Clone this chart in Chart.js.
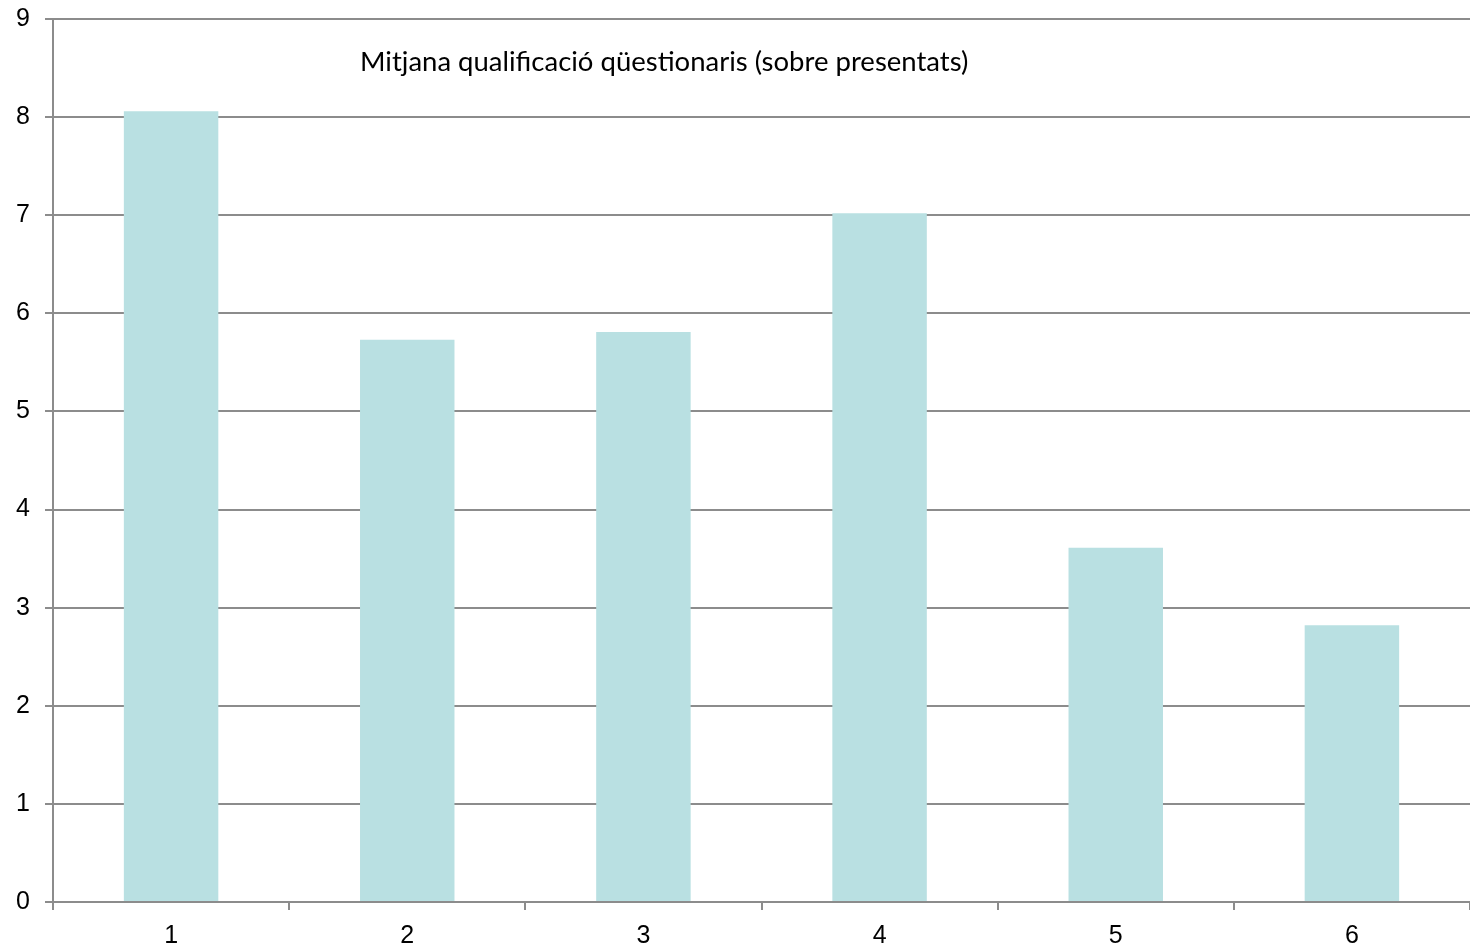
<!DOCTYPE html>
<html>
<head>
<meta charset="utf-8">
<script src="https://cdn.jsdelivr.net/npm/chart.js@4"></script>
<style>
html,body{margin:0;padding:0;background:#fff;}
canvas{display:block;}
</style>
</head>
<body>
<canvas id="c" width="1470" height="949"></canvas>
<script>
const categories = ["1","2","3","4","5","6"];
const values = [8.06, 5.73, 5.81, 7.02, 3.61, 2.82];
const chartTitle = "Mitjana qualificació qüestionaris (sobre presentats)";

const titlePlugin = {
  id: 'innerTitle',
  afterDraw(chart) {
    const ctx = chart.ctx;
    ctx.save();
    ctx.font = '27.5px Lato, "Open Sans", sans-serif';
    ctx.fillStyle = '#000';
    ctx.textBaseline = 'middle';
    ctx.textAlign = 'left';
    ctx.fillText(chartTitle, 360, 62);
    ctx.restore();
  }
};

const tickFont = { family: "'Liberation Sans', Arial, sans-serif", size: 25, lineHeight: 1.0 };

new Chart(document.getElementById('c'), {
  type: 'bar',
  data: {
    labels: categories,
    datasets: [{
      data: values,
      backgroundColor: '#b9e0e2',
      borderWidth: 0,
      barPercentage: 0.4,
      categoryPercentage: 1.0
    }]
  },
  options: {
    responsive: false,
    animation: false,
    devicePixelRatio: 1,
    layout: { padding: { top: 19, right: 0, left: 0, bottom: 0 } },
    plugins: { legend: { display: false }, title: { display: false }, tooltip: { enabled: false } },
    scales: {
      y: {
        min: 0, max: 9,
        ticks: { stepSize: 1, color: '#000', font: tickFont, padding: 15 },
        grid: { color: '#8c8c8c', lineWidth: 2, tickLength: 8 },
        border: { color: '#8c8c8c', width: 2 },
        afterFit(scale) { scale.width = 53; scale.paddingTop = 0; scale.paddingBottom = 0; }
      },
      x: {
        offset: true,
        ticks: { color: '#000', font: tickFont, padding: 14 },
        grid: { color: '#8c8c8c', lineWidth: 2, tickLength: 8, drawOnChartArea: false, offset: true },
        border: { color: '#8c8c8c', width: 2 },
        afterFit(scale) { scale.height = 47; scale.paddingLeft = 0; scale.paddingRight = 0; }
      }
    }
  },
  plugins: [titlePlugin]
});
</script>
</body>
</html>
